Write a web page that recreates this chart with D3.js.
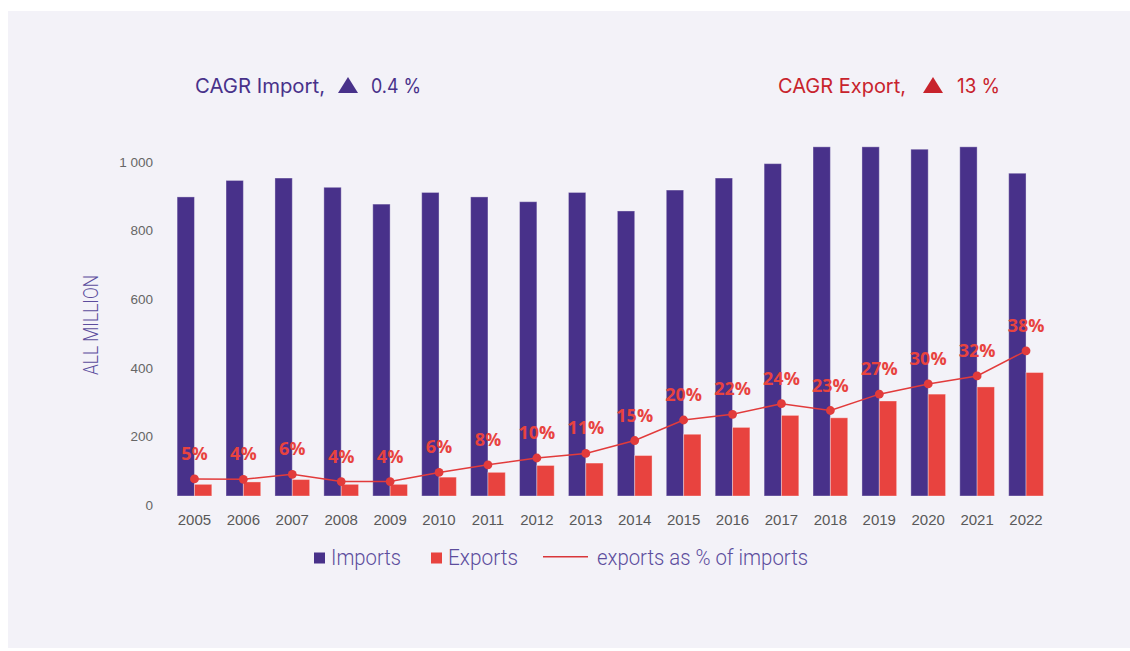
<!DOCTYPE html>
<html>
<head>
<meta charset="utf-8">
<script src="https://cdn.jsdelivr.net/npm/d3@7"></script>
<style>
  body { margin: 0; background: #ffffff; }
  svg { display: block; }
</style>
</head>
<body>
<svg width="1130" height="651"></svg>
<script>
// data
var years = ["2005","2006","2007","2008","2009","2010","2011","2012","2013","2014","2015","2016","2017","2018","2019","2020","2021","2022"];
var imports = [872, 920, 927, 900, 851, 885, 872, 858, 885, 831, 892, 927, 969, 1018, 1018, 1011, 1018, 941];
var exports = [34, 41, 48, 34, 34, 55, 69, 89, 96, 118, 180, 200, 235, 228, 277, 297, 318, 360];
var pct = [4.5, 4.4, 5.7, 3.8, 3.8, 6.2, 8.2, 10.0, 11.2, 14.6, 20.0, 21.5, 24.3, 22.5, 26.8, 29.5, 31.6, 38.2];
var yTicks = [0, 200, 400, 600, 800, 1000];
var cagrLabels = ["CAGR Import,", "CAGR Export,"];
var cagrValues = ["0.4 %", "13 %"];
var legendLabels = ["Imports", "Exports", "exports as % of imports"];

var purple = "#48318a", red = "#e8433f", darkRed = "#c8232c";

var svg = d3.select("svg");

// background panel
svg.append("rect")
  .attr("x", 8).attr("y", 11)
  .attr("width", 1122).attr("height", 637)
  .attr("fill", "#f3f2f8");

var x = d3.scaleBand()
  .domain(years)
  .range([170, 1050.5]);

var xSub = d3.scaleBand()
  .domain(["imp", "exp"])
  .range([0, x.bandwidth()])
  .paddingOuter(0.41);

var y = d3.scaleLinear()
  .domain([0, 1000])
  .range([496, 153]);

var yPct = d3.scaleLinear()
  .domain([0, 100])
  .range([496, 116]);

// y axis labels
svg.append("g")
  .selectAll("text")
  .data(yTicks)
  .enter().append("text")
  .attr("x", 153)
  .attr("y", function(d) { return y(d) + 9; })
  .attr("dy", "0.35em")
  .attr("text-anchor", "end")
  .attr("font-family", "Liberation Sans, Arial, sans-serif")
  .attr("font-size", 13.5)
  .attr("fill", "#666666")
  .text(function(d) { return d3.format(",")(d).replace(",", " "); });

svg.append("text")
  .attr("transform", "translate(98,325) rotate(-90)")
  .attr("text-anchor", "middle")
  .attr("font-family", "Roboto, sans-serif")
  .attr("font-weight", 300)
  .attr("font-size", 20)
  .attr("fill", "#5c4d9d")
  .attr("textLength", 100)
  .attr("lengthAdjust", "spacingAndGlyphs")
  .text("ALL MILLION");

// bars
var groups = svg.append("g")
  .selectAll("g")
  .data(years)
  .enter().append("g")
  .attr("transform", function(d) { return "translate(" + x(d) + ",0)"; });

groups.append("rect")
  .attr("x", xSub("imp"))
  .attr("width", xSub.bandwidth())
  .attr("y", function(d, i) { return y(imports[i]); })
  .attr("height", function(d, i) { return y(0) - y(imports[i]); })
  .attr("fill", purple)
  .attr("stroke", "rgba(255,255,255,0.35)")
  .attr("stroke-width", 1);

groups.append("rect")
  .attr("x", xSub("exp"))
  .attr("width", xSub.bandwidth())
  .attr("y", function(d, i) { return y(exports[i]); })
  .attr("height", function(d, i) { return y(0) - y(exports[i]); })
  .attr("fill", red)
  .attr("stroke", "rgba(255,255,255,0.35)")
  .attr("stroke-width", 1);

// x labels
svg.append("g")
  .selectAll("text")
  .data(years)
  .enter().append("text")
  .attr("x", function(d) { return x(d) + x.bandwidth() / 2; })
  .attr("y", 525)
  .attr("text-anchor", "middle")
  .attr("font-family", "Liberation Sans, Arial, sans-serif")
  .attr("font-size", 15)
  .attr("fill", "#595959")
  .text(function(d) { return d; });

// percentage line
var cx = function(d, i) { return x(years[i]) + x.bandwidth() / 2; };
var line = d3.line()
  .x(cx)
  .y(function(d) { return yPct(d); });

svg.append("path")
  .datum(pct)
  .attr("d", line)
  .attr("fill", "none")
  .attr("stroke", "#e23b3b")
  .attr("stroke-width", 1.5);

svg.append("g")
  .selectAll("circle")
  .data(pct)
  .enter().append("circle")
  .attr("cx", cx)
  .attr("cy", function(d) { return yPct(d); })
  .attr("r", 4.4)
  .attr("fill", "#e23b3b");

svg.append("g")
  .selectAll("text")
  .data(pct)
  .enter().append("text")
  .attr("x", cx)
  .attr("y", function(d) { return yPct(d) - 19; })
  .attr("text-anchor", "middle")
  .attr("font-family", "Open Sans, sans-serif")
  .attr("font-weight", 700)
  .attr("font-size", 18)
  .attr("fill", red)
  .text(function(d) { return Math.round(d) + "%"; });

// CAGR headers
var hdr = [
  { x: 195, len: 130, tri: 338, vx: 371, vlen: 50, color: purple },
  { x: 778, len: 128, tri: 923, vx: 957, vlen: 43, color: darkRed }
];
hdr.forEach(function(h, i) {
  svg.append("text")
    .attr("x", h.x).attr("y", 93)
    .attr("font-family", "Inter, sans-serif")
    .attr("font-size", 20)
    .attr("fill", h.color)
    .attr("textLength", h.len)
    .attr("lengthAdjust", "spacingAndGlyphs")
    .text(cagrLabels[i]);
  svg.append("path")
    .attr("d", "M" + h.tri + ",93 L" + (h.tri + 20) + ",93 L" + (h.tri + 10) + ",77 Z")
    .attr("fill", h.color);
  svg.append("text")
    .attr("x", h.vx).attr("y", 93)
    .attr("font-family", "Inter, sans-serif")
    .attr("font-size", 20)
    .attr("fill", h.color)
    .attr("textLength", h.vlen)
    .attr("lengthAdjust", "spacingAndGlyphs")
    .text(cagrValues[i]);
});

// legend
var legend = svg.append("g");
legend.append("rect").attr("x", 314).attr("y", 552.5).attr("width", 11).attr("height", 11).attr("fill", purple);
legend.append("rect").attr("x", 431).attr("y", 552.5).attr("width", 11).attr("height", 11).attr("fill", red);
legend.append("line").attr("x1", 543).attr("x2", 588).attr("y1", 556.7).attr("y2", 556.7)
  .attr("stroke", "#d9363a").attr("stroke-width", 1.5);
var legPos = [[331, 70], [448, 70], [597, 211]];
legendLabels.forEach(function(t, i) {
  legend.append("text")
    .attr("x", legPos[i][0]).attr("y", 565)
    .attr("font-family", "Roboto, sans-serif")
    .attr("font-weight", 300)
    .attr("font-size", 22)
    .attr("fill", "#5c4d9d")
    .attr("textLength", legPos[i][1])
    .attr("lengthAdjust", "spacingAndGlyphs")
    .text(t);
});
</script>
</body>
</html>
